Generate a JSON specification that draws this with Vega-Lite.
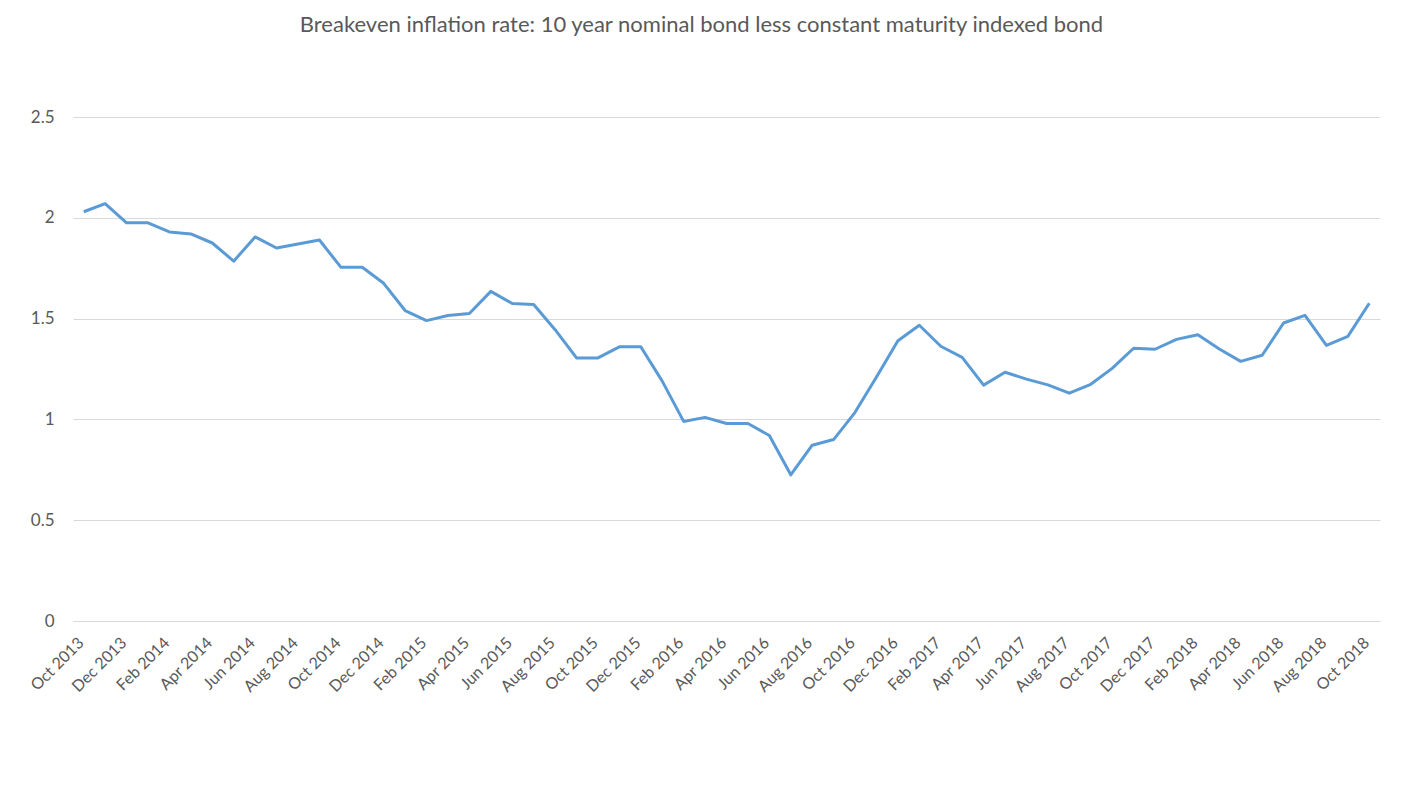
{
  "$schema": "https://vega.github.io/schema/vega-lite/v6.json",
  "autosize": {"type": "none"},
  "width": 1307,
  "height": 504,
  "padding": {"left": 73, "top": 117, "right": 24, "bottom": 165},
  "background": "white",
  "title": {
    "text": "Breakeven inflation rate: 10 year nominal bond less constant maturity indexed bond",
    "font": "Lato",
    "fontSize": 22,
    "fontWeight": "normal",
    "color": "#595959",
    "anchor": "middle",
    "offset": 71,
    "dx": -25
  },
  "data": {
    "values": [
      {"month": "Oct 2013", "rate": 2.03},
      {"month": "Nov 2013", "rate": 2.07},
      {"month": "Dec 2013", "rate": 1.975},
      {"month": "Jan 2014", "rate": 1.975},
      {"month": "Feb 2014", "rate": 1.93},
      {"month": "Mar 2014", "rate": 1.92},
      {"month": "Apr 2014", "rate": 1.875},
      {"month": "May 2014", "rate": 1.785},
      {"month": "Jun 2014", "rate": 1.905},
      {"month": "Jul 2014", "rate": 1.85},
      {"month": "Aug 2014", "rate": 1.87},
      {"month": "Sep 2014", "rate": 1.89},
      {"month": "Oct 2014", "rate": 1.755},
      {"month": "Nov 2014", "rate": 1.755},
      {"month": "Dec 2014", "rate": 1.675},
      {"month": "Jan 2015", "rate": 1.54},
      {"month": "Feb 2015", "rate": 1.49},
      {"month": "Mar 2015", "rate": 1.515},
      {"month": "Apr 2015", "rate": 1.525},
      {"month": "May 2015", "rate": 1.635},
      {"month": "Jun 2015", "rate": 1.575},
      {"month": "Jul 2015", "rate": 1.57},
      {"month": "Aug 2015", "rate": 1.445},
      {"month": "Sep 2015", "rate": 1.305},
      {"month": "Oct 2015", "rate": 1.305},
      {"month": "Nov 2015", "rate": 1.36},
      {"month": "Dec 2015", "rate": 1.36},
      {"month": "Jan 2016", "rate": 1.19},
      {"month": "Feb 2016", "rate": 0.99},
      {"month": "Mar 2016", "rate": 1.01},
      {"month": "Apr 2016", "rate": 0.98},
      {"month": "May 2016", "rate": 0.98},
      {"month": "Jun 2016", "rate": 0.92},
      {"month": "Jul 2016", "rate": 0.725},
      {"month": "Aug 2016", "rate": 0.872},
      {"month": "Sep 2016", "rate": 0.9},
      {"month": "Oct 2016", "rate": 1.035},
      {"month": "Nov 2016", "rate": 1.21},
      {"month": "Dec 2016", "rate": 1.39},
      {"month": "Jan 2017", "rate": 1.467},
      {"month": "Feb 2017", "rate": 1.363},
      {"month": "Mar 2017", "rate": 1.308},
      {"month": "Apr 2017", "rate": 1.17},
      {"month": "May 2017", "rate": 1.234},
      {"month": "Jun 2017", "rate": 1.2},
      {"month": "Jul 2017", "rate": 1.171},
      {"month": "Aug 2017", "rate": 1.13},
      {"month": "Sep 2017", "rate": 1.174},
      {"month": "Oct 2017", "rate": 1.253},
      {"month": "Nov 2017", "rate": 1.353},
      {"month": "Dec 2017", "rate": 1.348},
      {"month": "Jan 2018", "rate": 1.397},
      {"month": "Feb 2018", "rate": 1.42},
      {"month": "Mar 2018", "rate": 1.349},
      {"month": "Apr 2018", "rate": 1.288},
      {"month": "May 2018", "rate": 1.318},
      {"month": "Jun 2018", "rate": 1.478},
      {"month": "Jul 2018", "rate": 1.516},
      {"month": "Aug 2018", "rate": 1.367},
      {"month": "Sep 2018", "rate": 1.412},
      {"month": "Oct 2018", "rate": 1.576}
    ]
  },
  "mark": {"type": "line", "color": "#5B9BD5", "strokeWidth": 3, "strokeJoin": "round"},
  "encoding": {
    "x": {
      "field": "month",
      "type": "ordinal",
      "sort": null,
      "scale": {"type": "point", "padding": 0.5},
      "axis": {
        "title": null,
        "values": ["Oct 2013", "Dec 2013", "Feb 2014", "Apr 2014", "Jun 2014", "Aug 2014", "Oct 2014", "Dec 2014", "Feb 2015", "Apr 2015", "Jun 2015", "Aug 2015", "Oct 2015", "Dec 2015", "Feb 2016", "Apr 2016", "Jun 2016", "Aug 2016", "Oct 2016", "Dec 2016", "Feb 2017", "Apr 2017", "Jun 2017", "Aug 2017", "Oct 2017", "Dec 2017", "Feb 2018", "Apr 2018", "Jun 2018", "Aug 2018", "Oct 2018"],
        "labelAngle": -45,
        "labelAlign": "right",
        "labelBaseline": "middle",
        "labelPadding": 19,
        "labelOffset": -3,
        "labelFont": "Lato",
        "labelFontSize": 16,
        "labelColor": "#595959",
        "ticks": false,
        "domain": true,
        "domainColor": "#d9d9d9",
        "domainWidth": 1,
        "grid": false,
        "labelOverlap": false
      }
    },
    "y": {
      "field": "rate",
      "type": "quantitative",
      "scale": {"domain": [0, 2.5], "nice": false},
      "axis": {
        "title": null,
        "values": [0, 0.5, 1, 1.5, 2, 2.5],
        "labelExpr": "datum.value",
        "labelFont": "Lato",
        "labelFontSize": 17,
        "labelColor": "#595959",
        "labelPadding": 19,
        "ticks": false,
        "domain": false,
        "grid": true,
        "gridColor": "#d9d9d9",
        "gridWidth": 1
      }
    }
  },
  "config": {
    "view": {"stroke": null}
  }
}
